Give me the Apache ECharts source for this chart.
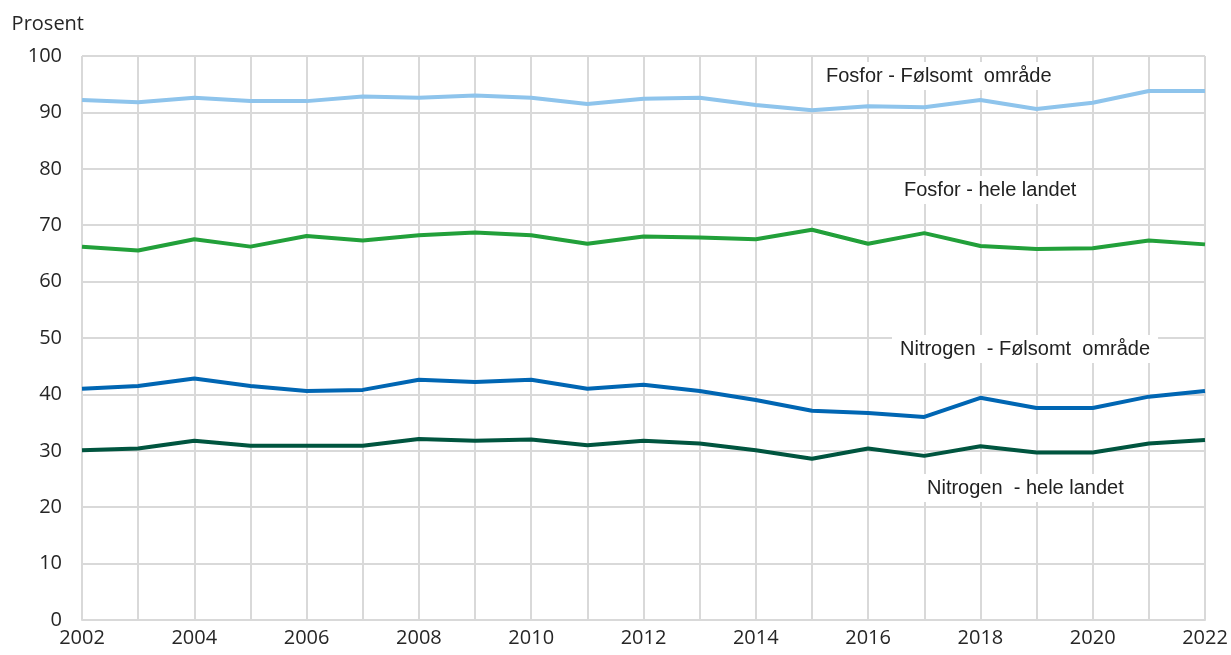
<!DOCTYPE html>
<html>
<head>
<meta charset="utf-8">
<script src="https://cdn.jsdelivr.net/npm/echarts@6/dist/echarts.min.js"></script>
<style>
  html, body { margin: 0; padding: 0; background: #fff; }
  #chart { width: 1231px; height: 655px; }
</style>
</head>
<body>
<div id="chart"></div>
<script>
// år
const years = ['2002', '2003', '2004', '2005', '2006', '2007', '2008', '2009', '2010', '2011',
  '2012', '2013', '2014', '2015', '2016', '2017', '2018', '2019', '2020', '2021', '2022']

// prosent, lest av figuren
const fosforFolsomt = [92.2, 91.8, 92.6, 92.0, 92.0, 92.8, 92.6, 93.0, 92.6, 91.5,
  92.4, 92.6, 91.3, 90.4, 91.1, 90.9, 92.2, 90.6, 91.7, 93.8, 93.8]
const fosforHele = [66.2, 65.5, 67.5, 66.2, 68.1, 67.3, 68.2, 68.7, 68.2, 66.7,
  68.0, 67.8, 67.5, 69.2, 66.7, 68.6, 66.3, 65.8, 65.9, 67.3, 66.6]
const nitrogenFolsomt = [41.0, 41.5, 42.8, 41.5, 40.6, 40.8, 42.6, 42.2, 42.6, 41.0,
  41.7, 40.6, 39.0, 37.1, 36.7, 36.0, 39.4, 37.6, 37.6, 39.6, 40.6]
const nitrogenHele = [30.1, 30.4, 31.8, 30.9, 30.9, 30.9, 32.1, 31.8, 32.0, 31.0,
  31.8, 31.3, 30.1, 28.6, 30.4, 29.1, 30.8, 29.7, 29.7, 31.3, 31.9]

const seriesNames = ['Fosfor - Følsomt  område', 'Fosfor - hele landet',
  'Nitrogen  - Følsomt  område', 'Nitrogen  - hele landet']
const seriesColors = ['#8EC4EC', '#22A03A', '#0066B3', '#00553F']

const chart = echarts.init(document.getElementById('chart'))

const axisFont = '"Open Sans", "Noto Sans", sans-serif'
const noteFont = '"Liberation Sans", Arial, sans-serif'

// tekstboks med hvit bakgrunn
function note (text, x, y) {
  return {
    type: 'text',
    left: x,
    top: y,
    z: 1,
    style: {
      text: text,
      fill: '#222',
      font: '20px ' + noteFont,
      backgroundColor: '#fff',
      padding: [4, 8, 4, 8]
    }
  }
}

const option = {
  animation: false,
  grid: { left: 82, right: 26, top: 56, bottom: 35 },
  xAxis: {
    type: 'category',
    data: years,
    boundaryGap: false,
    axisLine: { show: true, lineStyle: { color: '#d9d9d9', width: 2 } },
    axisTick: { show: false },
    axisLabel: { interval: 1, margin: 8, color: '#262626', fontSize: 20, fontFamily: axisFont },
    splitLine: { show: true, interval: 0, lineStyle: { color: '#d9d9d9', width: 2 } }
  },
  yAxis: {
    type: 'value',
    min: 0,
    max: 100,
    interval: 10,
    name: 'Prosent',
    nameGap: 22,
    nameTextStyle: { align: 'right', color: '#262626', fontSize: 20, fontFamily: axisFont, padding: [0, -2, 0, 0] },
    axisLine: { show: false },
    axisTick: { show: false },
    axisLabel: { margin: 20, color: '#262626', fontSize: 20, fontFamily: axisFont },
    splitLine: { lineStyle: { color: '#d9d9d9', width: 2 } }
  },
  graphic: [
    note(seriesNames[0], 818, 62),
    note(seriesNames[1], 896, 176),
    note(seriesNames[2], 892, 335),
    note(seriesNames[3], 919, 474)
  ],
  series: [fosforFolsomt, fosforHele, nitrogenFolsomt, nitrogenHele].map((d, i) => ({
    name: seriesNames[i],
    type: 'line',
    data: d,
    symbol: 'none',
    z: 3,
    lineStyle: { color: seriesColors[i], width: 4 }
  }))
}

chart.setOption(option)
</script>
</body>
</html>
